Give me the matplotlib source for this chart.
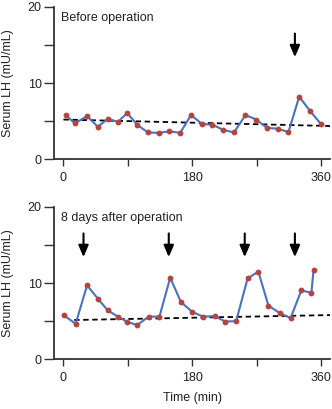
import matplotlib
matplotlib.use("Agg")
import matplotlib.pyplot as plt

# Sampling times (min) and serum LH (mU/mL)
t_before = [3, 16, 33, 48, 62, 76, 89, 103, 118, 133, 148, 163, 178,
            193, 208, 223, 238, 254, 269, 284, 299, 314, 329, 344, 359]
lh_before = [5.8, 4.7, 5.65, 4.25, 5.3, 4.9, 6.05, 4.5, 3.5, 3.45, 3.65, 3.45, 5.8,
             4.65, 4.5, 3.85, 3.5, 5.8, 5.2, 4.1, 4.0, 3.55, 8.2, 6.35, 4.65]

t_after = [1, 17, 33, 48, 62, 76, 89, 103, 119, 134, 149, 164, 180,
           195, 211, 226, 241, 257, 272, 286, 302, 317, 332, 346, 349]
lh_after = [5.75, 4.65, 9.7, 7.95, 6.4, 5.6, 4.9, 4.5, 5.6, 5.6, 10.7, 7.5, 6.2,
            5.6, 5.65, 4.95, 5.0, 10.6, 11.5, 7.05, 6.05, 5.4, 9.05, 8.7, 11.65]

# dashed trend lines (start/end time, start/end value)
trend_before_t = [0, 372]
trend_before_v = [5.2, 4.35]
trend_after_t = [15, 372]
trend_after_v = [5.15, 5.8]

# pulse arrows
arrows_before = [323]
arrows_after = [28, 147, 253, 323]

labels = ["Before operation", "8 days after operation"]

plt.rcParams["font.family"] = ["Liberation Sans", "DejaVu Sans"]

fig = plt.figure(figsize=(3.32, 4.09), dpi=100)
ax1 = fig.add_axes([0.163, 0.611, 0.831, 0.372])
ax2 = fig.add_axes([0.163, 0.1215, 0.831, 0.373])

line_col = "#4a70c6"
dot_col = "#b4443e"
spine_col = "#333333"

panels = [
    (ax1, t_before, lh_before, trend_before_t, trend_before_v, arrows_before, labels[0]),
    (ax2, t_after, lh_after, trend_after_t, trend_after_v, arrows_after, labels[1]),
]

for ax, t, v, tt, tv, arrs, lab in panels:
    ax.plot(tt, tv, color="black", linestyle=(0, (3, 2)), linewidth=1.3, zorder=2)
    ax.plot(t, v, color=line_col, linewidth=1.5, zorder=3)
    ax.plot(t, v, "o", color=dot_col, markersize=4.2, markeredgewidth=0, zorder=4)
    for a in arrs:
        ax.annotate("", xy=(a, 13.4), xytext=(a, 16.5),
                    arrowprops=dict(arrowstyle="-|>,head_length=0.7,head_width=0.3",
                                    color="black", linewidth=1.5, shrinkA=0, shrinkB=0))
    ax.text(-3, 18.5, lab, fontsize=9, color="#222222", va="center", ha="left")

    ax.set_xlim(-13, 372)
    ax.set_ylim(0, 20)
    ax.set_xticks([0, 90, 180, 270, 360])
    ax.set_xticklabels(["0", "", "180", "", "360"])
    ax.set_yticks([0, 5, 10, 15, 20])
    ax.set_yticklabels(["0", "", "10", "", "20"])
    ax.spines["top"].set_visible(False)
    ax.spines["right"].set_visible(False)
    for s in ["left", "bottom"]:
        ax.spines[s].set_color(spine_col)
        ax.spines[s].set_linewidth(1.3)
    ax.tick_params(axis="y", direction="out", length=7, width=1, color=spine_col,
                   labelsize=9, labelcolor="#222222", pad=2)
    ax.tick_params(axis="x", direction="out", length=5, width=1, color=spine_col,
                   labelsize=9, labelcolor="#222222", pad=4)
    ax.set_ylabel("Serum LH (mU/mL)", fontsize=9, color="#222222", labelpad=10)

ax2.set_xlabel("Time (min)", fontsize=9, color="#222222", labelpad=6)

fig.savefig("out.png", dpi=100)
